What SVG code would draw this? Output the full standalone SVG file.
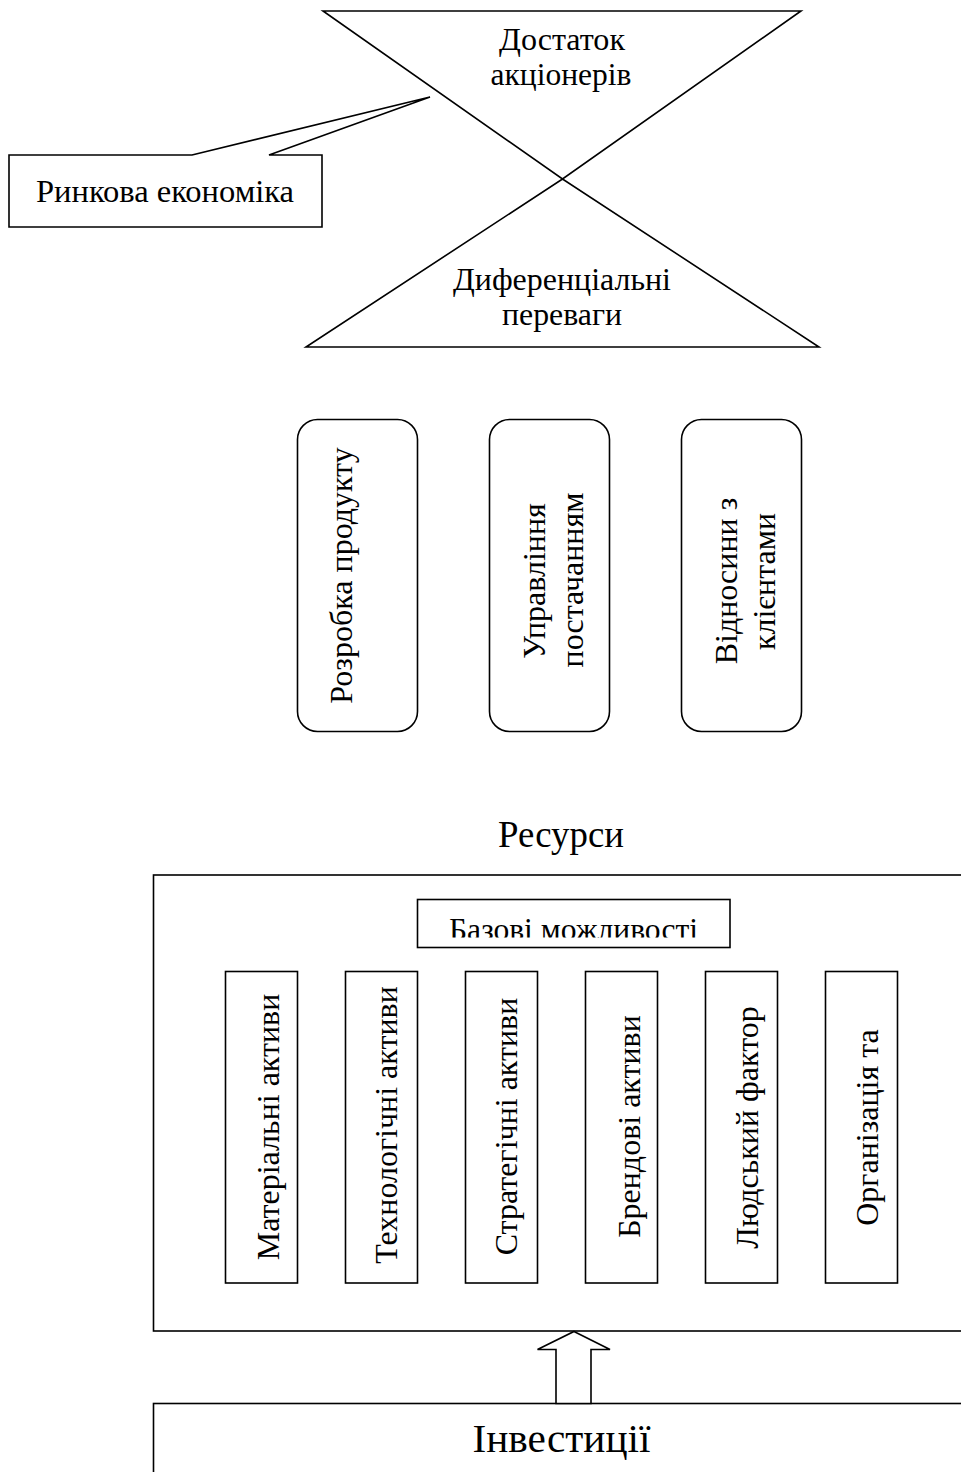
<svg xmlns="http://www.w3.org/2000/svg" width="961" height="1472" viewBox="0 0 961 1472">
  <style>
    .shape { fill: #ffffff; stroke: #000000; stroke-width: 1.6; }
    .line { fill: none; stroke: #000000; stroke-width: 1.5; }
    .lbl { font-family: "Liberation Serif", "Times New Roman", serif; font-size: 32px; fill: #000000; text-anchor: middle; }
    .big { font-size: 37px; }
    .huge { font-size: 41px; }
  </style>
  <defs>
    <clipPath id="baseClip">
      <rect x="417" y="899" width="313" height="38.5"/>
    </clipPath>
  </defs>

  <rect x="0" y="0" width="961" height="1472" fill="#ffffff"/>

  <!-- hourglass: two triangles meeting at one apex -->
  <g id="hourglass">
    <polygon class="shape" points="323,11 801,11 562.5,179"/>
    <polygon class="shape" points="306,347 819,347 562.5,179"/>
    <text class="lbl" x="562" y="50" textLength="126" lengthAdjust="spacingAndGlyphs">Достаток</text>
    <text class="lbl" x="561" y="85" textLength="141" lengthAdjust="spacingAndGlyphs">акціонерів</text>
    <text class="lbl" x="562" y="290" textLength="218" lengthAdjust="spacingAndGlyphs">Диференціальні</text>
    <text class="lbl" x="562" y="325" textLength="120" lengthAdjust="spacingAndGlyphs">переваги</text>
  </g>

  <!-- callout box with pointer -->
  <g id="callout">
    <polygon class="shape" points="9,155 192,155 430,97 269,155 322,155 322,227 9,227"/>
    <text class="lbl" x="165" y="202" textLength="258" lengthAdjust="spacingAndGlyphs">Ринкова економіка</text>
  </g>

  <!-- three value-chain processes -->
  <g id="process-product">
    <rect class="shape" x="297.5" y="419.5" width="120" height="312" rx="20" ry="20"/>
    <text class="lbl" transform="translate(352,575.5) rotate(-90)">Розробка продукту</text>
  </g>
  <g id="process-supply">
    <rect class="shape" x="489.5" y="419.5" width="120" height="312" rx="20" ry="20"/>
    <text class="lbl" transform="translate(545,581) rotate(-90)">Управління</text>
    <text class="lbl" transform="translate(583,580) rotate(-90)">постачанням</text>
  </g>
  <g id="process-clients">
    <rect class="shape" x="681.5" y="419.5" width="120" height="312" rx="20" ry="20"/>
    <text class="lbl" transform="translate(737,581) rotate(-90)">Відносини з</text>
    <text class="lbl" transform="translate(775,581.5) rotate(-90)">клієнтами</text>
  </g>

  <!-- resources block -->
  <g id="resources-title">
    <text class="lbl big" x="561" y="847" textLength="126" lengthAdjust="spacingAndGlyphs">Ресурси</text>
  </g>
  <g id="resources">
    <rect class="shape" x="153.5" y="875" width="812" height="456"/>
  </g>
  <g id="core-capabilities">
    <rect class="shape" x="417.5" y="899.5" width="312.5" height="48"/>
    <text class="lbl" x="573.5" y="940" clip-path="url(#baseClip)" textLength="249" lengthAdjust="spacingAndGlyphs">Базові можливості</text>
  </g>

  <g id="asset-material">
    <rect class="shape" x="225.5" y="971.5" width="72" height="311.5"/>
    <text class="lbl" transform="translate(279,1127) rotate(-90)">Матеріальні активи</text>
  </g>
  <g id="asset-technology">
    <rect class="shape" x="345.5" y="971.5" width="72" height="311.5"/>
    <text class="lbl" transform="translate(397,1125) rotate(-90)">Технологічні активи</text>
  </g>
  <g id="asset-strategic">
    <rect class="shape" x="465.5" y="971.5" width="72" height="311.5"/>
    <text class="lbl" transform="translate(517,1126.5) rotate(-90)">Стратегічні активи</text>
  </g>
  <g id="asset-brand">
    <rect class="shape" x="585.5" y="971.5" width="72" height="311.5"/>
    <text class="lbl" transform="translate(640,1126.5) rotate(-90)">Брендові активи</text>
  </g>
  <g id="asset-human">
    <rect class="shape" x="705.5" y="971.5" width="72" height="311.5"/>
    <text class="lbl" transform="translate(758,1127.5) rotate(-90)">Людський фактор</text>
  </g>
  <g id="asset-organisation">
    <rect class="shape" x="825.5" y="971.5" width="72" height="311.5"/>
    <text class="lbl" transform="translate(878,1127.5) rotate(-90)">Організація та</text>
  </g>

  <!-- investments block -->
  <g id="investments">
    <rect class="shape" x="153.5" y="1403.5" width="812" height="100"/>
    <text class="lbl huge" x="561.5" y="1452" textLength="178" lengthAdjust="spacingAndGlyphs">Інвестиції</text>
  </g>

  <!-- block arrow from investments up to resources -->
  <g id="connectors">
    <polygon class="shape" points="574,1331.5 610,1349.5 591,1349.5 591,1403.5 556,1403.5 556,1349.5 537.5,1349.5"/>
  </g>
</svg>
